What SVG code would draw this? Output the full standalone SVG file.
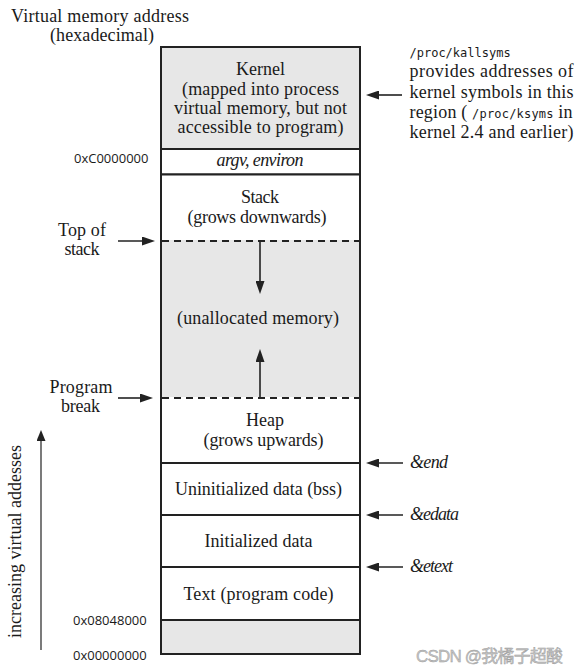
<svg xmlns="http://www.w3.org/2000/svg" width="578" height="672" viewBox="0 0 578 672">
<style>
.bg{fill:#ffffff}
.seg{stroke:#222;stroke-width:2;fill:#ffffff}
.gray{fill:#e7e7e7}
.dash{stroke:#222;stroke-width:2;stroke-dasharray:7 5;fill:none}
.t{font-family:"Liberation Serif","Times New Roman",serif;font-size:18px;fill:#1a1a1a}
.c{text-anchor:middle}
.it{font-style:italic}
.mono{font-family:"DejaVu Sans Mono","Liberation Mono",monospace;font-size:12px;fill:#1a1a1a}
.addr{font-family:"Open Sans","Noto Sans","Liberation Sans",sans-serif;font-size:13px;fill:#1a1a1a}
.conn{stroke:#222;stroke-width:1.6;fill:none}
.wm{font-family:"Liberation Sans","Noto Sans CJK SC",sans-serif;font-size:17px;fill:#c4c4c4;stroke:#9a9a9a;stroke-width:0.4}
</style>
<defs>
<marker id="ah" markerUnits="userSpaceOnUse" markerWidth="13" markerHeight="9" refX="9" refY="4.5" orient="auto">
<path d="M0,0 L13,4.5 L0,9 Z" fill="#222"/>
</marker>
<marker id="ahs" markerUnits="userSpaceOnUse" markerWidth="11" markerHeight="9" refX="7" refY="4.5" orient="auto">
<path d="M0,0 L11,4.5 L0,9 Z" fill="#222"/>
</marker>
</defs>
<rect class="bg" x="0" y="0" width="578" height="672"/>

<g id="header">
<text class="t c" x="100" y="22" textLength="178">Virtual memory address</text>
<text class="t c" x="102" y="41" textLength="104">(hexadecimal)</text>
</g>

<g id="kernel">
<rect class="seg gray" x="161" y="47" width="199" height="102"/>
<text class="t c" x="260.5" y="75" textLength="49">Kernel</text>
<text class="t c" x="260.5" y="94.5" textLength="157">(mapped into process</text>
<text class="t c" x="260.5" y="113.5" textLength="173">virtual memory, but not</text>
<text class="t c" x="260.5" y="132.5" textLength="166">accessible to program)</text>
</g>

<g id="argv">
<rect class="seg" x="161" y="149" width="199" height="25.5"/>
<text class="t c it" x="260" y="166" textLength="87">argv, environ</text>
</g>

<g id="stack">
<rect class="seg" x="161" y="174.5" width="199" height="66.5"/>
<text class="t c" x="260" y="202.5" textLength="38">Stack</text>
<text class="t c" x="257" y="223" textLength="139">(grows downwards)</text>
</g>

<g id="unallocated">
<rect x="161" y="241" width="199" height="157" fill="#e7e7e7"/>
<line x1="161" y1="241" x2="161" y2="398" stroke="#222" stroke-width="2"/>
<line x1="360" y1="241" x2="360" y2="398" stroke="#222" stroke-width="2"/>
<text class="t c" x="258" y="323.5" textLength="162">(unallocated memory)</text>
</g>

<g id="heap">
<rect class="seg" x="161" y="398" width="199" height="65"/>
<text class="t c" x="265" y="426" textLength="38">Heap</text>
<text class="t c" x="263.5" y="446" textLength="120">(grows upwards)</text>
</g>

<g id="dashes">
<rect x="162" y="240" width="197" height="2" fill="#e7e7e7"/>
<rect x="162" y="397" width="197" height="2" fill="#ffffff"/>
<line class="dash" x1="162" y1="241" x2="359" y2="241"/>
<line class="dash" x1="162" y1="398" x2="359" y2="398"/>
</g>

<g id="bss">
<rect class="seg" x="161" y="463" width="199" height="52"/>
<text class="t c" x="258.5" y="494.5" textLength="167">Uninitialized data (bss)</text>
</g>

<g id="initdata">
<rect class="seg" x="161" y="515" width="199" height="52"/>
<text class="t c" x="258.5" y="547" textLength="108">Initialized data</text>
</g>

<g id="text-seg">
<rect class="seg" x="161" y="567" width="199" height="53"/>
<text class="t c" x="258.5" y="600" textLength="150">Text (program code)</text>
</g>

<g id="low">
<rect class="seg gray" x="161" y="620" width="199" height="34"/>
</g>

<g id="addresses">
<text class="addr" x="74" y="163">0xC0000000</text>
<text class="addr" x="73" y="625">0x08048000</text>
<text class="addr" x="73" y="660">0x00000000</text>
</g>

<g id="left-labels">
<text class="t c" x="82" y="236" textLength="48">Top of</text>
<text class="t c" x="82" y="255" textLength="35">stack</text>
<text class="t c" x="81" y="393" textLength="63">Program</text>
<text class="t c" x="80.5" y="412" textLength="39">break</text>
<text class="t c" transform="translate(21,541.5) rotate(-90)" x="0" y="0" textLength="193">increasing virtual addesses</text>
</g>

<g id="right-labels">
<text class="mono" x="409.5" y="57">/proc/kallsyms</text>
<text class="t" x="409.5" y="77" textLength="164">provides addresses of</text>
<text class="t" x="409.5" y="97.5" textLength="164">kernel symbols in this</text>
<text class="t" x="409.5" y="118" textLength="163">region ( <tspan class="mono">/proc/ksyms</tspan> in</text>
<text class="t" x="409.5" y="138" textLength="164">kernel 2.4 and earlier)</text>
<text class="t it" x="410" y="467.5" textLength="38">&amp;end</text>
<text class="t it" x="410" y="520" textLength="49">&amp;edata</text>
<text class="t it" x="410" y="571.5" textLength="43">&amp;etext</text>
</g>

<g id="connectors">
<line class="conn" x1="402" y1="95" x2="370" y2="95" marker-end="url(#ah)"/>
<line class="conn" x1="118" y1="241" x2="151" y2="241" marker-end="url(#ah)"/>
<line class="conn" x1="118" y1="398" x2="149" y2="398" marker-end="url(#ah)"/>
<line class="conn" x1="260" y1="242" x2="260" y2="290" marker-end="url(#ah)"/>
<line class="conn" x1="260" y1="397" x2="260" y2="353" marker-end="url(#ah)"/>
<line class="conn" x1="403" y1="463" x2="370" y2="463" marker-end="url(#ah)"/>
<line class="conn" x1="403" y1="515" x2="370" y2="515" marker-end="url(#ah)"/>
<line class="conn" x1="403" y1="567" x2="370" y2="567" marker-end="url(#ah)"/>
<line x1="41" y1="650" x2="41" y2="434" stroke="#222" stroke-width="1.2" marker-end="url(#ahs)"/>
</g>

<g id="watermark">
<text class="wm" x="416" y="662" textLength="147">CSDN @我橘子超酸</text>
</g>
</svg>
